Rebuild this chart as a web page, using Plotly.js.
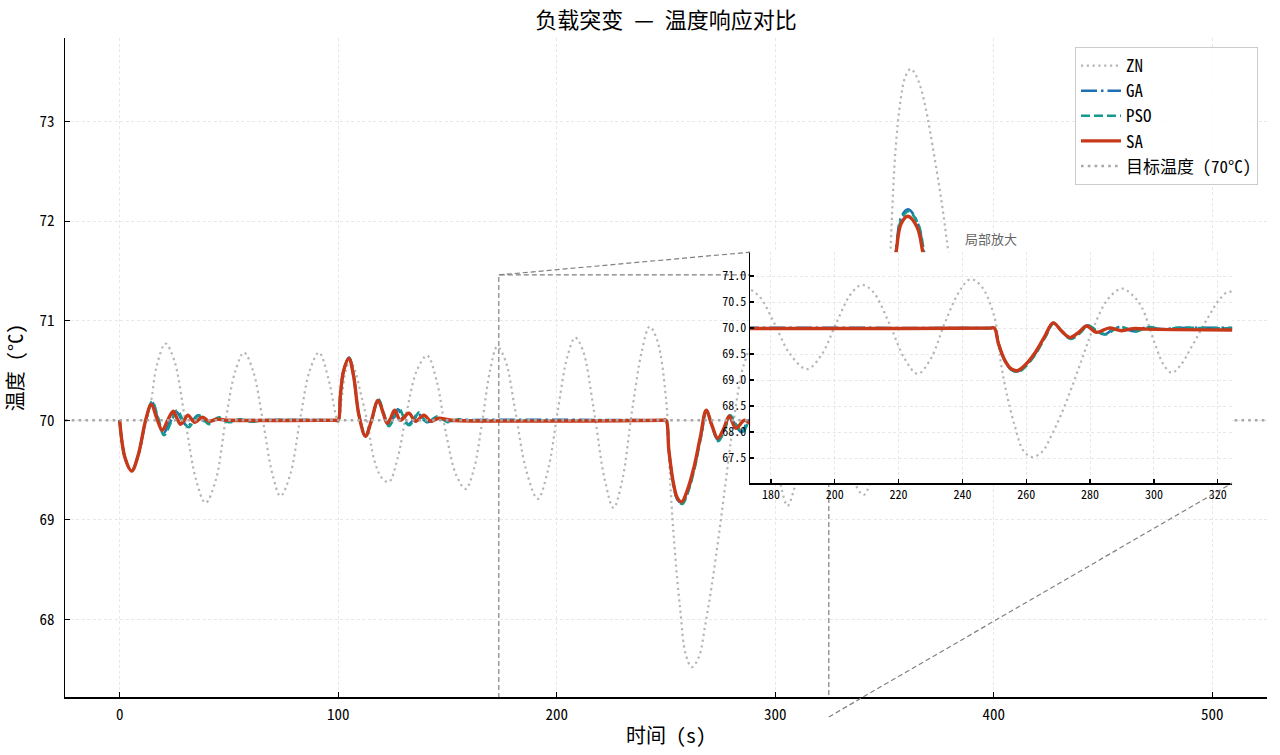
<!DOCTYPE html>
<html>
<head>
<meta charset="utf-8">
<script src="https://cdn.plot.ly/plotly-3.0.1.min.js"></script>
<style>
  html, body { margin: 0; padding: 0; background: #fff; }
  #chart { width: 1280px; height: 755px; }
</style>
</head>
<body>
<div id="chart"></div>
<script>
/* Load disturbance: temperature response of ZN / GA / PSO / SA tuned PID.
 * Values; the inset re-plots the same
 * series over a zoomed window.
 */

// --- data ---
const TARGET = 70;
const X_TICKS = [0, 100, 200, 300, 400, 500];
const Y_TICKS = [68, 69, 70, 71, 72, 73];
const INSET_X_TICKS = [180, 200, 220, 240, 260, 280, 300, 320];
const INSET_Y_TICKS = [67.5, 68.0, 68.5, 69.0, 69.5, 70.0, 70.5, 71.0];

const znT = [0, 2.5, 5.5, 8.5, 11.5, 14.2, 17, 21, 25, 30, 35, 39.3, 44, 48.5, 53, 56.9,
  61, 65.5, 70, 73.6, 78, 82.5, 87, 91.2, 95.5, 100, 101.5, 103.5, 105.5, 108, 110.3,
  113.2, 116.5, 120, 123.2, 127, 131.5, 136, 140.7, 145, 149.5, 154, 158.3, 162, 166,
  169.5, 172.8, 176.5, 181, 186, 191.3, 196, 200.5, 205, 208.5, 212, 217, 222, 226, 230,
  234.5, 239, 242.5, 246, 250, 252, 254, 256.5, 259, 261.8, 265, 268, 271, 274.5, 278,
  281, 285.5, 289.9, 293, 296.1, 300.3, 303, 305.6, 308.5, 311.8, 317.1, 320.5, 323.4,
  326.5, 330, 334, 337.5, 340.5, 343.5, 346.5, 349.5, 351, 352.7, 353.5, 355, 357.3,
  359.5, 361.9, 364, 366.4, 368.7, 371, 374.8, 377.1, 378.9, 384, 390, 396, 402, 408,
  414, 420, 426, 432, 438, 444, 450, 456, 462, 468, 474, 480, 486, 492, 498, 500];
const znY = [70, 69.62, 69.49, 69.65, 69.95, 70.17, 70.55, 70.77, 70.6, 70.0, 69.4, 69.17,
  69.4, 70.0, 70.5, 70.68, 70.5, 70.0, 69.45, 69.24, 69.45, 70.0, 70.5, 70.68, 70.42,
  69.98, 70.2, 70.5, 70.6, 70.48, 70.27, 70.0, 69.6, 69.42, 69.38, 69.6, 70.1, 70.5,
  70.65, 70.4, 69.85, 69.45, 69.31, 69.5, 70.0, 70.5, 70.74, 70.6, 70.1, 69.5, 69.21,
  69.5, 70.1, 70.65, 70.83, 70.7, 70.1, 69.4, 69.12, 69.4, 70.1, 70.7, 70.94, 70.8,
  70.22, 69.35, 68.7, 68.1, 67.65, 67.52, 67.62, 67.95, 68.35, 68.9, 69.5, 70.0, 70.55,
  70.76, 70.65, 70.41, 69.7, 69.3, 69.14, 69.3, 69.64, 70.22, 70.55, 70.7, 70.62, 70.2,
  69.62, 69.32, 69.25, 69.38, 69.75, 70.3, 70.95, 71.69, 72.1, 72.71, 73.21, 73.45,
  73.53, 73.48, 73.35, 73.15, 72.88, 72.38, 72.04, 71.74, 71.0, 70.2, 69.7, 69.55, 69.8,
  70.3, 70.7, 70.78, 70.5, 69.95, 69.6, 69.55, 69.9, 70.4, 70.7, 70.62, 70.2, 69.75,
  69.6, 69.78, 69.85];

const gaT = [0, 2.5, 5.5, 8.5, 12, 14.8, 17.3, 20, 23, 25.8, 28.5, 31.2, 33.5, 35.8, 38,
  40.3, 44.8, 49.5, 55, 98.5, 100, 101, 102.5, 105, 107, 109.5, 112.4, 115, 118.3, 120.8,
  122.9, 125.2, 127.3, 129.6, 131.9, 134.2, 136.5, 138.8, 141, 144.8, 149.5, 155, 248.5,
  250, 251.3, 253.3, 255.3, 257.4, 259.7, 262.7, 265.9, 268.5, 271.1, 273.8, 276.7,
  279.2, 281.8, 284.6, 287, 289.2, 291.8, 293.6, 296, 298.3, 302.5, 307, 348.5, 350,
  351.2, 352.8, 354.3, 355.5, 357.6, 360.8, 365, 367.8, 371.4, 375.4, 379.4, 383.5,
  387.6, 391.6, 395.6, 399.6, 404, 408.5, 413.5, 420, 500];
const gaY = [70, 69.62, 69.49, 69.65, 70.0, 70.18, 70.03, 69.87, 69.98, 70.09, 70.0, 69.94,
  70.0, 70.05, 70.0, 69.97, 70.02, 69.99, 70.0, 70, 70, 70.25, 70.5, 70.63, 70.45, 70.05,
  69.84, 69.98, 70.2, 70.06, 69.95, 70.02, 70.11, 70.02, 69.96, 70.0, 70.07, 70.01,
  69.98, 70.03, 69.99, 70.0, 70, 70, 69.7, 69.37, 69.2, 69.17, 69.27, 69.5, 69.83, 70.1,
  69.94, 69.8, 69.91, 70.05, 69.95, 69.88, 69.97, 70.02, 69.97, 69.94, 69.99, 70.01,
  69.98, 70.0, 70, 70, 70.42, 71.05, 71.5, 71.76, 72.04, 72.12, 71.99, 71.7, 71.1, 70.3,
  69.83, 69.72, 69.88, 70.11, 70.13, 70.0, 69.93, 70.0, 70.03, 70.0, 70];

const psoT = [0, 2.5, 5.5, 8.5, 12, 14.9, 17.5, 20.3, 23.5, 26.3, 29, 31.7, 34, 36.3, 38.6,
  40.9, 43.2, 45.5, 50, 55, 60, 66, 98.5, 100, 101, 102.5, 105, 107, 109.5, 112.5, 115,
  118.5, 121, 123.2, 125.5, 127.8, 130, 132.4, 134.7, 137, 139.3, 141.6, 145.4, 150, 155,
  160, 248.5, 250, 251.3, 253.3, 255.3, 257.5, 259.8, 262.8, 266, 268.6, 271.2, 273.9,
  276.8, 279.4, 282, 285.1, 287.5, 289.6, 292, 294, 296.5, 298.7, 303, 308, 315, 348.5,
  350, 351.2, 352.8, 354.3, 355.6, 357.7, 361, 365.2, 368, 371.6, 375.6, 379.6, 383.8,
  388, 392, 396, 400, 404.5, 409, 414, 420, 430, 500];
const psoY = [70, 69.62, 69.49, 69.65, 70.0, 70.19, 70.03, 69.85, 69.98, 70.1, 70.0, 69.93,
  70.0, 70.05, 70.0, 69.96, 70.0, 70.03, 69.98, 70.01, 69.985, 70.0, 70, 70, 70.25, 70.5,
  70.63, 70.46, 70.06, 69.85, 69.98, 70.21, 70.06, 69.94, 70.02, 70.12, 70.03, 69.95,
  70.0, 70.08, 70.01, 69.97, 70.04, 69.98, 70.01, 70.0, 70, 70, 69.7, 69.37, 69.2, 69.16,
  69.26, 69.49, 69.83, 70.09, 69.93, 69.79, 69.9, 70.05, 69.96, 69.88, 69.97, 70.02,
  69.98, 69.93, 69.98, 70.02, 69.97, 70.01, 70.0, 70, 70, 70.42, 71.05, 71.5, 71.75,
  72.02, 72.1, 71.98, 71.7, 71.1, 70.3, 69.82, 69.7, 69.88, 70.12, 70.14, 70.0, 69.92,
  70.0, 70.04, 69.99, 70.0, 70];

const saT = [0, 2.5, 5.5, 8.5, 11.9, 14.5, 17, 19.5, 22, 24.5, 26.2, 27.9, 29.5, 31.2,
  34.4, 37.8, 41, 44.5, 50, 98.5, 100, 101, 102.5, 104.9, 107, 109.5, 112.5, 115, 118.2,
  120.5, 122.4, 124, 125.8, 128.5, 132.3, 135.4, 139.2, 142.5, 146, 152, 248.5, 250,
  251.3, 253.3, 255.2, 257.2, 259.5, 262.6, 265.7, 268.4, 271, 273.7, 276.5, 278.9, 282,
  285.9, 289.9, 293.5, 298, 348.5, 350, 351.2, 352.8, 354.2, 355.5, 357.5, 360.6, 364.9,
  367.4, 371, 375, 379, 383, 387, 391, 395, 399, 403, 408, 414, 500];
const saY = [70, 69.62, 69.49, 69.65, 70.0, 70.16, 70.02, 69.9, 70.0, 70.09, 70.02, 69.96,
  70.0, 70.05, 69.98, 70.03, 69.99, 70.01, 70, 70, 70, 70.25, 70.5, 70.62, 70.45, 70.05,
  69.84, 69.98, 70.2, 70.08, 69.97, 70.02, 70.1, 70.0, 70.07, 69.99, 70.05, 69.99, 70.02,
  70, 70, 70, 69.7, 69.38, 69.22, 69.18, 69.28, 69.51, 69.83, 70.1, 69.95, 69.82, 69.92,
  70.04, 69.92, 70.0, 69.95, 69.99, 69.98, 69.98, 70, 70.4, 71.0, 71.45, 71.72, 71.97,
  72.05, 71.94, 71.7, 71.1, 70.3, 69.85, 69.75, 69.9, 70.1, 70.12, 70.0, 69.95, 70.01,
  70.0, 70];

// --- look ---
// Mono CJK gives half-width Latin glyphs, like the SimHei of the original.
const FONT = '"Noto Sans Mono CJK SC", "Noto Sans CJK SC", "Noto Sans", sans-serif';
const X_RANGE = [-25, 525];
const Y_RANGE = [67.22, 73.84];
const ZOOM_X = [173.5, 324.5];
const ZOOM_Y = [67.02, 71.46];
const INSET_X = [0.570, 0.971];
const INSET_Y = [0.3247, 0.675];
const GRID = "#e6e6e6";

const STYLES = {
  ZN: { color: "#b5b5b5", width: 2.2, dash: "2.2px,3.6px" },
  GA: { color: "#1f6fb2", width: 2.6, dash: "16px,4px,2.5px,4px" },
  PSO: { color: "#139a8c", width: 2.6, dash: "9px,4px" },
  SA: { color: "#c8391a", width: 3.4, dash: "solid" },
};

function series(name, t, y, axes) {
  return {
    x: t, y: y, name: name, type: "scatter", mode: "lines",
    line: Object.assign({ shape: "spline", smoothing: 1 }, STYLES[name]),
    xaxis: axes[0], yaxis: axes[1],
    showlegend: axes[0] === "x", hoverinfo: "skip",
  };
}

const traces = [];
[["x", "y"], ["x2", "y2"]].forEach(function (axes) {
  traces.push(series("ZN", znT, znY, axes));
  traces.push(series("GA", gaT, gaY, axes));
  traces.push(series("PSO", psoT, psoY, axes));
  traces.push(series("SA", saT, saY, axes));
});
traces.push({
  x: X_RANGE, y: [TARGET, TARGET], name: "目标温度 (70°C)", type: "scatter",
  mode: "lines", line: { color: "#a8a8a8", width: 2.6, dash: "2.6px,4.2px" },
  hoverinfo: "skip",
});

function axisBase() {
  return {
    ticks: "inside", ticklen: 5, tickwidth: 1.3, tickcolor: "#000",
    showline: true, linecolor: "#000", linewidth: 1.5, mirror: false,
    showgrid: true, gridcolor: GRID, griddash: "3px,2.5px", gridwidth: 0.9,
    zeroline: false, tickfont: { family: FONT, size: 15, color: "#000" },
  };
}

function px(v, r) { return (v - r[0]) / (r[1] - r[0]); }

const layout = {
  width: 1280, height: 755,
  paper_bgcolor: "#ffffff", plot_bgcolor: "#ffffff",
  font: { family: FONT, color: "#000" },
  margin: { l: 65, r: 13, t: 38, b: 58 },
  title: {
    text: "负载突变 — 温度响应对比", font: { family: FONT, size: 22, color: "#000" },
    x: 0.5, xref: "paper", y: 1 - 20 / 755, yref: "container", yanchor: "middle",
  },
  xaxis: Object.assign(axisBase(), {
    range: X_RANGE, tickvals: X_TICKS, anchor: "y", ticklabelstandoff: 3,
    title: { text: "时间 (s)", font: { family: FONT, size: 20 }, standoff: 6 },
  }),
  yaxis: Object.assign(axisBase(), {
    range: Y_RANGE, tickvals: Y_TICKS, anchor: "x", ticklabelstandoff: 6,
    title: { text: "温度 (°C)", font: { family: FONT, size: 20 }, standoff: 10 },
  }),
  xaxis2: Object.assign(axisBase(), {
    domain: INSET_X, anchor: "y2", range: ZOOM_X, tickvals: INSET_X_TICKS,
    ticklen: 4, tickfont: { family: FONT, size: 12, color: "#000" },
  }),
  yaxis2: Object.assign(axisBase(), {
    domain: INSET_Y, anchor: "x2", range: ZOOM_Y, tickvals: INSET_Y_TICKS,
    tickformat: ".1f", ticklen: 4, tickfont: { family: FONT, size: 12, color: "#000" },
  }),
  legend: {
    x: 0.9925, y: 0.9863, xanchor: "right", yanchor: "top",
    bgcolor: "rgba(255,255,255,0.85)", bordercolor: "#cccccc", borderwidth: 1,
    font: { family: FONT, size: 17, color: "#000" }, itemwidth: 40, tracegroupgap: 0,
  },
  annotations: [{
    text: "局部放大", xref: "paper", yref: "paper", showarrow: false,
    x: (INSET_X[0] + INSET_X[1]) / 2, xanchor: "center",
    y: INSET_Y[1] + 0.004, yanchor: "bottom",
    font: { family: FONT, size: 13, color: "#666666" },
  }],
  shapes: [
    {
      type: "rect", xref: "x", yref: "y", layer: "below",
      x0: ZOOM_X[0], x1: ZOOM_X[1], y0: ZOOM_Y[0], y1: ZOOM_Y[1],
      line: { color: "#808080", width: 1.2, dash: "5px,3px" },
    },
    {
      type: "line", xref: "paper", yref: "paper", layer: "above",
      x0: px(ZOOM_X[0], X_RANGE), y0: px(ZOOM_Y[1], Y_RANGE), x1: INSET_X[0], y1: INSET_Y[1],
      line: { color: "#808080", width: 1.2, dash: "5px,3px" },
    },
    {
      type: "line", xref: "paper", yref: "paper", layer: "above",
      x0: px(ZOOM_X[1], X_RANGE), y0: px(ZOOM_Y[0], Y_RANGE), x1: INSET_X[1], y1: INSET_Y[0],
      line: { color: "#808080", width: 1.2, dash: "5px,3px" },
    },
  ],
};

Plotly.newPlot("chart", traces, layout, { staticPlot: true, displayModeBar: false });
</script>
</body>
</html>
